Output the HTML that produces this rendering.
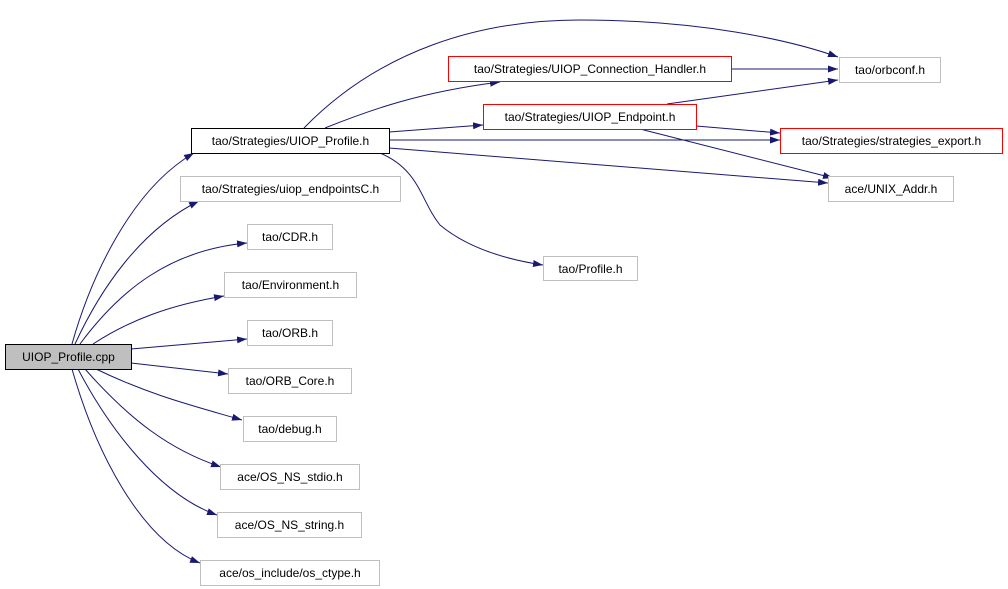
<!DOCTYPE html>
<html><head><meta charset="utf-8"><style>
html,body{margin:0;padding:0;background:#fff;}
svg{display:block;}
text{font-family:"Liberation Sans",sans-serif;font-size:12px;fill:#000;}
</style></head><body>
<svg width="1008" height="589" viewBox="0 0 1008 589" xmlns="http://www.w3.org/2000/svg">
<defs>
<marker id="a" markerUnits="userSpaceOnUse" markerWidth="11" markerHeight="8" refX="10" refY="3.5" orient="auto">
<path d="M0,0 L10,3.5 L0,7z" fill="#191970"/>
</marker>
</defs>
<g fill="none" stroke="#191970" stroke-width="1" marker-end="url(#a)">
<path d="M72,344 C90,280 130,190 194,153"/>
<path d="M75,344 C100,290 140,230 199,201"/>
<path d="M80,344 C120,290 170,250 247,243"/>
<path d="M93,344 C130,320 170,305 224,296"/>
<path d="M131,349 L247,339"/>
<path d="M131,363 L228,374"/>
<path d="M96,369 C150,395 190,405 242,420"/>
<path d="M85,369 C130,420 170,450 221,467"/>
<path d="M78,369 C110,430 160,495 217,515"/>
<path d="M72,369 C95,450 140,540 200,563"/>
<path d="M304,128 C380,50 480,20 580,20 C700,20 790,40 838,57"/>
<path d="M325,128 C370,110 420,92 500,82"/>
<path d="M389,132 L483,125"/>
<path d="M389,140 L780,140"/>
<path d="M389,148 L828,183"/>
<path d="M380,153 C420,170 420,200 440,225 C470,250 510,260 543,265"/>
<path d="M731,69 L838,69"/>
<path d="M667,104 L838,80"/>
<path d="M696,126 L780,133"/>
<path d="M640,129 L833,178"/>
</g>
<g stroke-width="1">
<rect x="5.5" y="344.5" width="126" height="25" fill="#bfbfbf" stroke="#000"/>
<text x="68.5" y="361" text-anchor="middle">UIOP_Profile.cpp</text>
<rect x="191.5" y="128.5" width="198" height="25" fill="#fff" stroke="#000"/>
<text x="290.5" y="145" text-anchor="middle">tao/Strategies/UIOP_Profile.h</text>
<rect x="180.5" y="176.5" width="220" height="25" fill="#fff" stroke="#bfbfbf"/>
<text x="290.5" y="193" text-anchor="middle">tao/Strategies/uiop_endpointsC.h</text>
<rect x="247.5" y="224.5" width="85" height="25" fill="#fff" stroke="#bfbfbf"/>
<text x="290" y="241" text-anchor="middle">tao/CDR.h</text>
<rect x="224.5" y="272.5" width="132" height="25" fill="#fff" stroke="#bfbfbf"/>
<text x="290.5" y="289" text-anchor="middle">tao/Environment.h</text>
<rect x="247.5" y="320.5" width="85" height="25" fill="#fff" stroke="#bfbfbf"/>
<text x="290" y="337" text-anchor="middle">tao/ORB.h</text>
<rect x="228.5" y="368.5" width="123" height="25" fill="#fff" stroke="#bfbfbf"/>
<text x="290" y="385" text-anchor="middle">tao/ORB_Core.h</text>
<rect x="243.5" y="416.5" width="93" height="25" fill="#fff" stroke="#bfbfbf"/>
<text x="290" y="433" text-anchor="middle">tao/debug.h</text>
<rect x="220.5" y="464.5" width="139" height="25" fill="#fff" stroke="#bfbfbf"/>
<text x="290" y="481" text-anchor="middle">ace/OS_NS_stdio.h</text>
<rect x="217.5" y="512.5" width="144" height="25" fill="#fff" stroke="#bfbfbf"/>
<text x="289.5" y="529" text-anchor="middle">ace/OS_NS_string.h</text>
<rect x="200.5" y="560.5" width="179" height="25" fill="#fff" stroke="#bfbfbf"/>
<text x="290" y="577" text-anchor="middle">ace/os_include/os_ctype.h</text>
<rect x="448.5" y="56.5" width="283" height="25" fill="#fff" stroke="#ff0000"/>
<text x="590" y="73" text-anchor="middle">tao/Strategies/UIOP_Connection_Handler.h</text>
<rect x="839.5" y="57.5" width="101" height="25" fill="#fff" stroke="#bfbfbf"/>
<text x="890" y="74" text-anchor="middle">tao/orbconf.h</text>
<rect x="483.5" y="104.5" width="213" height="25" fill="#fff" stroke="#ff0000"/>
<text x="590" y="121" text-anchor="middle">tao/Strategies/UIOP_Endpoint.h</text>
<rect x="780.5" y="128.5" width="222" height="25" fill="#fff" stroke="#ff0000"/>
<text x="891.5" y="145" text-anchor="middle">tao/Strategies/strategies_export.h</text>
<rect x="828.5" y="176.5" width="125" height="25" fill="#fff" stroke="#bfbfbf"/>
<text x="891" y="193" text-anchor="middle">ace/UNIX_Addr.h</text>
<rect x="543.5" y="256.5" width="94" height="24" fill="#fff" stroke="#bfbfbf"/>
<text x="590.5" y="273" text-anchor="middle">tao/Profile.h</text>
</g>
</svg>
</body></html>
